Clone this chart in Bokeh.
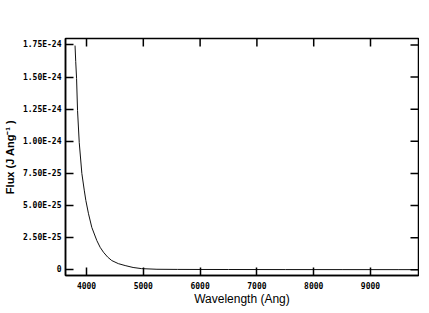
import math
from bokeh.plotting import figure
from bokeh.models import FixedTicker, Range1d
from bokeh.embed import file_html
from bokeh.resources import INLINE

# Spectrum data (wavelength in Angstrom, flux in J/Ang)
wavelength = [3798, 3810, 3825, 3842, 3872, 3918, 3960, 3988, 4035, 4093, 4181,
              4240, 4298, 4370, 4444, 4560, 4680, 4820, 4970, 5240, 5600,
              6000, 6500, 7000, 7500, 8000, 8500, 9000, 9500, 9845]
flux = [1.745e-24, 1.62e-24, 1.49e-24, 1.24e-24, 0.99e-24, 0.75e-24, 0.62e-24,
        0.54e-24, 0.436e-24, 0.33e-24, 0.228e-24, 0.175e-24, 0.137e-24,
        0.100e-24, 0.072e-24, 0.048e-24, 0.033e-24, 0.018e-24, 0.009e-24,
        0.004e-24, 0.003e-24, 0.0025e-24, 0.0022e-24, 0.002e-24, 0.0018e-24,
        0.0016e-24, 0.0015e-24, 0.0014e-24, 0.0013e-24, 0.0012e-24]

x_ticks = [4000, 5000, 6000, 7000, 8000, 9000]
y_ticks = [0, 2.5e-25, 5.0e-25, 7.5e-25, 1.0e-24, 1.25e-24, 1.5e-24, 1.75e-24]
y_tick_labels = ["0", "2.50E-25", "5.00E-25", "7.50E-25", "1.00E-24",
                 "1.25E-24", "1.50E-24", "1.75E-24"]

x_range = Range1d(3630, 9845)
y_range = Range1d(-0.0444e-24, 1.80e-24)

p = figure(frame_width=353, frame_height=237, output_backend="svg",
           toolbar_location=None, x_range=x_range, y_range=y_range,
           min_border_left=59, min_border_right=1, min_border_top=38,
           min_border_bottom=10, background_fill_color="white",
           border_fill_color="white")
p.xgrid.visible = False
p.ygrid.visible = False
p.outline_line_color = "black"
p.outline_line_width = 1.5

p.line(wavelength, flux, line_color="#111111", line_width=1)

# inward ticks on the top and right edges
p.ray(x=x_ticks, y=[y_range.end] * len(x_ticks), length=8, length_units="screen",
      angle=-math.pi / 2, line_color="black", line_width=1.5)
p.ray(x=[x_range.end] * len(y_ticks), y=y_ticks, length=8, length_units="screen",
      angle=math.pi, line_color="black", line_width=1.5)

tick_font = "DejaVu Sans Mono"

def style_axis(ax):
    ax.major_tick_in = 8
    ax.major_tick_out = 0
    ax.minor_tick_line_color = None
    ax.major_tick_line_color = "black"
    ax.major_tick_line_width = 1.5
    ax.axis_line_color = "black"
    ax.axis_line_width = 1.5
    ax.major_label_text_font = tick_font
    ax.major_label_text_font_style = "bold"
    ax.major_label_text_font_size = "8px"
    ax.major_label_text_color = "black"
    ax.axis_label_text_color = "black"

xa = p.xaxis[0]
xa.ticker = FixedTicker(ticks=x_ticks)
style_axis(xa)
xa.major_label_standoff = 6
xa.axis_label = "Wavelength (Ang)"
xa.axis_label_text_font = "Liberation Sans"
xa.axis_label_text_font_style = "normal"
xa.axis_label_text_font_size = "12px"
xa.axis_label_standoff = 0

ya = p.yaxis[0]
ya.ticker = FixedTicker(ticks=y_ticks)
ya.major_label_overrides = {t: l for t, l in zip(y_ticks, y_tick_labels)}
style_axis(ya)
ya.major_label_standoff = 4
ya.major_label_orientation = "horizontal"
ya.axis_label = "Flux (J Ang\u207b\u00b9 )"
ya.axis_label_text_font = "Liberation Sans"
ya.axis_label_text_font_style = "bold"
ya.axis_label_text_font_size = "11px"
ya.axis_label_standoff = 4

open("out.html", "w").write(file_html(p, INLINE))
